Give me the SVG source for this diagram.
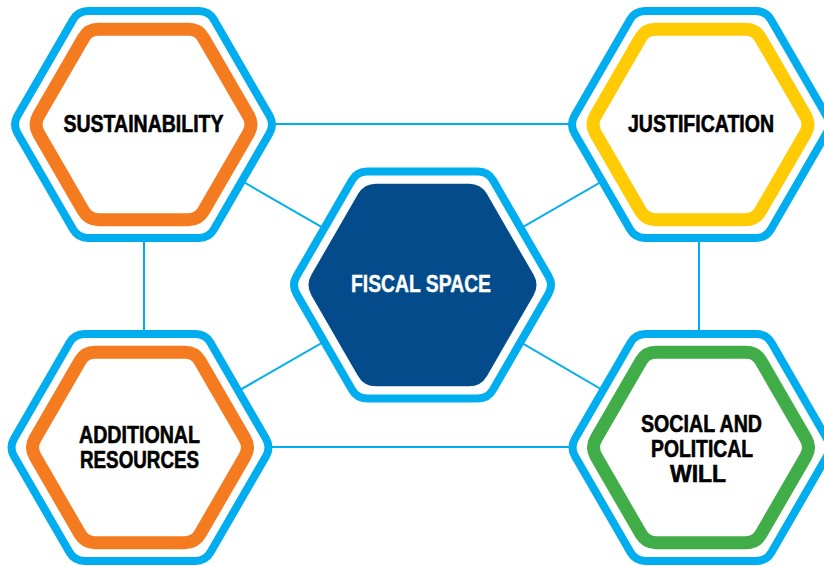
<svg xmlns="http://www.w3.org/2000/svg" xmlns:xlink="http://www.w3.org/1999/xlink" width="824" height="566" viewBox="0 0 824 566">
<style>
.outer{fill:#fff;stroke:#00AEEF;stroke-width:8;stroke-linejoin:round}
.ring{fill:#fff;stroke-width:13;stroke-linejoin:round}
.orange{stroke:#F47B20}
.yellow{stroke:#FFCB05}
.green{stroke:#41AD49}
.core{fill:#034B8A}
.lbl{font-family:"Liberation Sans",Arial,sans-serif;font-weight:bold;font-size:23.5px;fill:#000;stroke:#000;stroke-width:0.6;text-anchor:middle}
.lbl.w{fill:#fff;stroke:#fff;stroke-width:0.4}
.conn line{stroke:#00AEEF;stroke-width:2}
</style>
<defs>
<path id="hexOuter" d="M126,-8.66 Q131,0 126,8.66 L70.5,104.79 Q65.5,113.45 55.5,113.45 L-55.5,113.45 Q-65.5,113.45 -70.5,104.79 L-126,8.66 Q-131,0 -126,-8.66 L-70.5,-104.79 Q-65.5,-113.45 -55.5,-113.45 L55.5,-113.45 Q65.5,-113.45 70.5,-104.79 Z"/>
<path id="hexRing" d="M105,-8.66 Q110,0 105,8.66 L60,86.6 Q55,95.26 45,95.26 L-45,95.26 Q-55,95.26 -60,86.6 L-105,8.66 Q-110,0 -105,-8.66 L-60,-86.6 Q-55,-95.26 -45,-95.26 L45,-95.26 Q55,-95.26 60,-86.6 Z"/>
<path id="hexCore" d="M111,-10.39 Q117,0 111,10.39 L64.5,90.93 Q58.5,101.32 46.5,101.32 L-46.5,101.32 Q-58.5,101.32 -64.5,90.93 L-111,10.39 Q-117,0 -111,-10.39 L-64.5,-90.93 Q-58.5,-101.32 -46.5,-101.32 L46.5,-101.32 Q58.5,-101.32 64.5,-90.93 Z"/>
</defs>
<rect width="824" height="566" fill="#fff"/>
<g id="connectors" class="conn">
<line x1="143.5" y1="124" x2="700.5" y2="124"/>
<line x1="140" y1="447" x2="701" y2="447"/>
<line x1="144" y1="124" x2="144" y2="447"/>
<line x1="699" y1="124" x2="699" y2="447"/>
<line x1="143.5" y1="124.5" x2="422.5" y2="285"/>
<line x1="700.5" y1="124.5" x2="422.5" y2="285"/>
<line x1="140" y1="447.5" x2="422.5" y2="285"/>
<line x1="701" y1="447.5" x2="422.5" y2="285"/>
</g>
<g id="sustainability" transform="translate(143.5,124.5)">
<use xlink:href="#hexOuter" class="outer"/>
<use xlink:href="#hexRing" class="ring orange"/>
<text class="lbl" x="0" y="7.5" textLength="160" lengthAdjust="spacingAndGlyphs">SUSTAINABILITY</text>
</g>
<g id="justification" transform="translate(700.5,124.5)">
<use xlink:href="#hexOuter" class="outer"/>
<use xlink:href="#hexRing" class="ring yellow"/>
<text class="lbl" x="0.5" y="7.5" textLength="146" lengthAdjust="spacingAndGlyphs">JUSTIFICATION</text>
</g>
<g id="fiscal-space" transform="translate(422.5,285)">
<use xlink:href="#hexOuter" class="outer"/>
<use xlink:href="#hexCore" class="core"/>
<text class="lbl w" x="-1.5" y="6.5" textLength="140" lengthAdjust="spacingAndGlyphs">FISCAL SPACE</text>
</g>
<g id="additional-resources" transform="translate(140,447.5)">
<use xlink:href="#hexOuter" class="outer"/>
<use xlink:href="#hexRing" class="ring orange"/>
<text class="lbl" x="-0.5" y="-4.5" textLength="121" lengthAdjust="spacingAndGlyphs">ADDITIONAL</text>
<text class="lbl" x="-0.5" y="20" textLength="119" lengthAdjust="spacingAndGlyphs">RESOURCES</text>
</g>
<g id="social-political-will" transform="translate(701,447.5)">
<use xlink:href="#hexOuter" class="outer"/>
<use xlink:href="#hexRing" class="ring green"/>
<text class="lbl" x="0.5" y="-15.5" textLength="121" lengthAdjust="spacingAndGlyphs">SOCIAL AND</text>
<text class="lbl" x="1" y="9.5" textLength="102" lengthAdjust="spacingAndGlyphs">POLITICAL</text>
<text class="lbl" x="-3" y="34.5" textLength="56" lengthAdjust="spacingAndGlyphs">WILL</text>
</g>
</svg>
